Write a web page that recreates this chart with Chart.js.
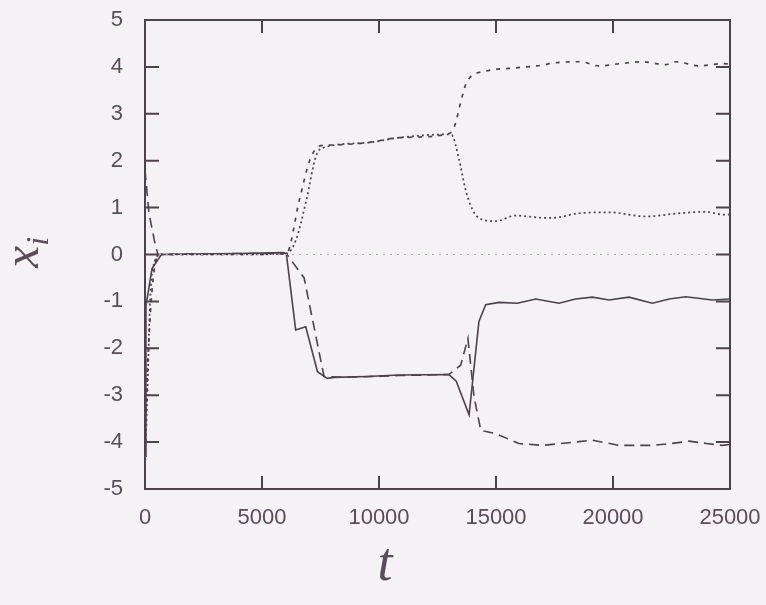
<!DOCTYPE html>
<html>
<head>
<meta charset="utf-8">
<script src="https://cdn.jsdelivr.net/npm/chart.js@4.4.1/dist/chart.umd.min.js"></script>
<style>
	html, body { margin: 0; padding: 0; background: #f4f2f5; }
	#wrap { width: 766px; height: 605px; position: relative; }
</style>
</head>
<body>
<div id="wrap"><canvas id="chart"></canvas></div>
<script>
( function () {
	'use strict';

	// Tick values on the two axes.
	var xTicks = [ 0, 5000, 10000, 15000, 20000, 25000 ];
	var yTicks = [ -5, -4, -3, -2, -1, 0, 1, 2, 3, 4, 5 ];

	// x1 — solid line.
	var solidT = [ 0, 40, 300, 700, 2000, 4000, 5900, 6040, 6440, 6870, 7370, 7790, 8080, 9500, 10850, 12990, 13300, 13850, 14270, 14560, 15130, 15910, 16700, 17690, 18400, 19120, 19830, 20680, 21680, 22400, 23110, 24240, 25000 ];
	var solidX = [ -4.3, -1.1, -0.3, 0, 0.01, 0.02, 0.04, 0.02, -1.61, -1.54, -2.5, -2.64, -2.62, -2.6, -2.57, -2.56, -2.7, -3.42, -1.43, -1.07, -1.02, -1.04, -0.95, -1.04, -0.95, -0.91, -0.97, -0.91, -1.04, -0.95, -0.9, -0.97, -0.95 ];

	// x2 — long dashes.
	var dashT = [ 0, 170, 400, 550, 2000, 4000, 6040, 6800, 7650, 8500, 10850, 12990, 13490, 13800, 14060, 14350, 14990, 15980, 16980, 18000, 19120, 20260, 21680, 22500, 23250, 24000, 24670, 25000 ];
	var dashX = [ 1.8, 0.88, 0.3, 0, 0.01, 0.02, 0.02, -0.5, -2.6, -2.62, -2.58, -2.56, -2.36, -1.79, -3.03, -3.75, -3.82, -4.03, -4.07, -4.02, -3.96, -4.07, -4.07, -4.03, -3.98, -4.03, -4.07, -4.05 ];

	// x3 — dotted.
	var dotT = [ 0, 100, 200, 300, 700, 2000, 4000, 6040, 6450, 6900, 7300, 7580, 9430, 10850, 12850, 13100, 13420, 13700, 13990, 14270, 14990, 15840, 17120, 17400, 18550, 19830, 21400, 22820, 23960, 24740, 25000 ];
	var dotX = [ -4.4, -3.0, -1.2, -0.4, 0, 0, 0, 0.02, 0.31, 1.17, 2.09, 2.27, 2.38, 2.49, 2.56, 2.55, 2.03, 1.38, 0.96, 0.78, 0.71, 0.83, 0.78, 0.78, 0.88, 0.9, 0.81, 0.88, 0.91, 0.85, 0.85 ];

	// x4 — short dashes.
	var shortT = [ 0, 150, 350, 600, 2000, 4000, 6040, 6600, 7050, 7450, 7800, 9430, 10850, 12850, 13200, 13560, 13770, 14560, 15840, 17120, 17270, 18620, 19400, 20300, 21250, 22250, 22680, 23680, 24670, 25000 ];
	var shortX = [ -4.0, -2.0, -0.5, 0, 0, 0, 0.02, 1.17, 2.02, 2.31, 2.33, 2.38, 2.49, 2.56, 2.7, 3.38, 3.7, 3.91, 3.98, 4.05, 4.07, 4.11, 4.02, 4.07, 4.11, 4.05, 4.11, 4.02, 4.07, 4.06 ];

	// x5 — faint dotted line that stays at zero.
	var zeroT = [ 0, 25000 ];
	var zeroX = [ 0, 0 ];

	var INK   = '#4e404c';
	var LABEL = '#5b4b5b';

	function pts( ts, vs ) {
		var out = [];
		for ( var i = 0; i < ts.length; i++ ) {
			out.push( { x: ts[ i ], y: vs[ i ] } );
		}
		return out;
	}

	function series( ts, vs, dash, color, width, smooth ) {
		return {
			data:                   pts( ts, vs ),
			borderColor:            color,
			borderWidth:            width,
			borderDash:             dash,
			pointRadius:            0,
			fill:                   false,
			tension:                smooth ? 0.4 : 0,
			cubicInterpolationMode: smooth ? 'monotone' : 'default',
		};
	}

	// Frame, inward ticks and the two axis titles.
	var framePlugin = {
		id: 'frame',
		afterDraw: function ( chart ) {
			var ctx = chart.ctx;
			var a   = chart.chartArea;
			var xs  = chart.scales.x;
			var ys  = chart.scales.y;
			var i, p;

			ctx.save();
			ctx.strokeStyle = INK;
			ctx.lineWidth   = 2;
			ctx.strokeRect( a.left, a.top, a.right - a.left, a.bottom - a.top );

			ctx.beginPath();
			for ( i = 0; i < xTicks.length; i++ ) {
				p = xs.getPixelForValue( xTicks[ i ] );
				ctx.moveTo( p, a.bottom );
				ctx.lineTo( p, a.bottom - 13 );
				ctx.moveTo( p, a.top );
				ctx.lineTo( p, a.top + 13 );
			}
			for ( i = 0; i < yTicks.length; i++ ) {
				p = ys.getPixelForValue( yTicks[ i ] );
				ctx.moveTo( a.left, p );
				ctx.lineTo( a.left + 14, p );
				ctx.moveTo( a.right, p );
				ctx.lineTo( a.right - 14, p );
			}
			ctx.stroke();

			ctx.fillStyle = LABEL;
			ctx.font      = 'italic 54px "Liberation Serif"';
			ctx.textAlign = 'center';
			ctx.textBaseline = 'alphabetic';
			ctx.fillText( 't', 385, 580 );

			ctx.translate( 38, 268 );
			ctx.rotate( -Math.PI / 2 );
			ctx.textAlign = 'left';
			ctx.font      = 'italic 50px "Liberation Serif"';
			ctx.fillText( 'x', 0, 0 );
			var w = ctx.measureText( 'x' ).width;
			ctx.font = 'italic 32px "Liberation Serif"';
			ctx.fillText( 'i', w, 10 );
			ctx.restore();
		},
	};

	new Chart( document.getElementById( 'chart' ), {
		type: 'line',
		data: {
			datasets: [
				series( zeroT, zeroX, [ 2, 5 ], '#b3a9b3', 1.2, false ),
				series( dotT, dotX, [ 2, 3 ], INK, 1.7, true ),
				series( shortT, shortX, [ 4, 6 ], INK, 1.7, true ),
				series( dashT, dashX, [ 10, 6 ], INK, 1.6, false ),
				series( solidT, solidX, [], INK, 1.6, false ),
			],
		},
		options: {
			responsive:          true,
			maintainAspectRatio: false,
			animation:           false,
			layout:              { padding: { top: 20, right: 36, left: 0, bottom: 0 } },
			plugins:             {
				legend:  { display: false },
				tooltip: { enabled: false },
			},
			scales: {
				x: {
					type:   'linear',
					min:    0,
					max:    25000,
					border: { display: false },
					grid:   { display: false },
					afterFit: function ( s ) {
						s.height       = 116;
						s.paddingLeft  = 0;
						s.paddingRight = 0;
					},
					afterBuildTicks: function ( s ) {
						s.ticks = xTicks.map( function ( v ) { return { value: v }; } );
					},
					ticks: {
						color:       LABEL,
						padding:     8,
						maxRotation: 0,
						font:        { family: '"Liberation Sans", Arial, sans-serif', size: 22 },
						callback:    function ( v ) { return String( v ); },
					},
				},
				y: {
					type:   'linear',
					min:    -5,
					max:    5,
					border: { display: false },
					grid:   { display: false },
					afterFit: function ( s ) {
						s.width         = 145;
						s.paddingTop    = 0;
						s.paddingBottom = 0;
					},
					afterBuildTicks: function ( s ) {
						s.ticks = yTicks.map( function ( v ) { return { value: v }; } );
					},
					ticks: {
						color:   LABEL,
						padding: 14,
						font:    { family: '"Liberation Sans", Arial, sans-serif', size: 22 },
						callback: function ( v ) { return String( v ); },
					},
				},
			},
		},
		plugins: [ framePlugin ],
	} );
} )();
</script>
</body>
</html>
